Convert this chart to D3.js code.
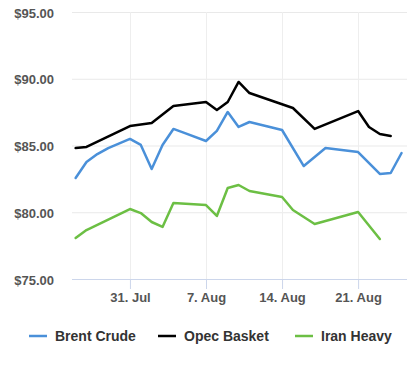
<!doctype html>
<html lang="en">
<head>
  <meta charset="utf-8">
  <script src="https://d3js.org/d3.v7.min.js"></script>
  <style>
    body { margin: 0; background: #fff; }
    text { font-family: "Liberation Sans", Arial, sans-serif; }
  </style>
</head>
<body>
  <div id="chart"></div>
  <script>
    // series data (2017 dates)
    var brentDates  = ["07-26","07-27","07-28","07-29","07-31","08-01","08-02","08-03","08-04","08-05","08-07","08-08","08-09","08-10","08-11","08-14","08-16","08-18","08-21","08-23","08-24","08-25"];
    var brentValues = [82.57, 83.76, 84.36, 84.81, 85.49, 85.04, 83.24, 85.04, 86.24, 85.94, 85.34, 86.09, 87.51, 86.39, 86.76, 86.16, 83.46, 84.81, 84.51, 82.87, 82.94, 84.44];

    var opecDates  = ["07-26","07-27","07-31","08-02","08-04","08-07","08-08","08-09","08-10","08-11","08-15","08-17","08-21","08-22","08-23","08-24"];
    var opecValues = [84.81, 84.89, 86.46, 86.69, 87.96, 88.26, 87.66, 88.26, 89.76, 88.93, 87.81, 86.24, 87.58, 86.39, 85.86, 85.71];

    var iranDates  = ["07-26","07-27","07-31","08-01","08-02","08-03","08-04","08-07","08-08","08-09","08-10","08-11","08-14","08-15","08-17","08-21","08-23"];
    var iranValues = [78.07, 78.67, 80.24, 79.94, 79.27, 78.90, 80.69, 80.54, 79.72, 81.82, 82.04, 81.59, 81.14, 80.17, 79.12, 80.02, 78.00];

    var yTicks = [75, 80, 85, 90, 95];
    var xTicks = ["07-31", "08-07", "08-14", "08-21"];

    var seriesNames  = ["Brent Crude", "Opec Basket", "Iran Heavy"];
    var seriesColors = ["#4a90d9", "#000000", "#6cbf44"];

    var parse = function(s) { return d3.timeParse("%Y-%m-%d")("2017-" + s); };

    var series = [
      {name: seriesNames[0], color: seriesColors[0], points: brentDates.map(function(d, i) { return {x: parse(d), y: brentValues[i]}; })},
      {name: seriesNames[1], color: seriesColors[1], points: opecDates.map(function(d, i) { return {x: parse(d), y: opecValues[i]}; })},
      {name: seriesNames[2], color: seriesColors[2], points: iranDates.map(function(d, i) { return {x: parse(d), y: iranValues[i]}; })}
    ];

    var width = 418, height = 369;
    var plot = {left: 72, right: 407, top: 12, bottom: 279};

    var svg = d3.select("#chart").append("svg")
        .attr("width", width)
        .attr("height", height);

    var x = d3.scaleTime()
        .domain([new Date(2017, 6, 25, 16), new Date(2017, 7, 25, 12)])
        .range([plot.left, plot.right]);

    var y = d3.scaleLinear()
        .domain([75, 95])
        .range([plot.bottom, plot.top]);

    // horizontal grid
    svg.append("g").selectAll("line")
        .data(yTicks.filter(function(v) { return v > 75; }))
        .enter().append("line")
        .attr("x1", plot.left).attr("x2", plot.right)
        .attr("y1", function(d) { return y(d) + 0.5; })
        .attr("y2", function(d) { return y(d) + 0.5; })
        .attr("stroke", "#e9e9e9").attr("stroke-width", 1);

    // vertical grid
    svg.append("g").selectAll("line")
        .data(xTicks)
        .enter().append("line")
        .attr("x1", function(d) { return Math.round(x(parse(d))) + 0.5; })
        .attr("x2", function(d) { return Math.round(x(parse(d))) + 0.5; })
        .attr("y1", plot.top).attr("y2", plot.bottom)
        .attr("stroke", "#eeeeee").attr("stroke-width", 1);

    // y labels
    svg.append("g").selectAll("text")
        .data(yTicks)
        .enter().append("text")
        .attr("x", 54)
        .attr("y", function(d) { return y(d) + 5.5; })
        .attr("text-anchor", "end")
        .attr("font-size", "13px")
        .attr("font-weight", "bold")
        .attr("fill", "#555")
        .text(function(d) { return "$" + d3.format(".2f")(d); });

    // x axis
    var xAxis = d3.axisBottom(x)
        .tickValues(xTicks.map(parse))
        .tickSize(10)
        .tickPadding(4)
        .tickFormat(function(d) { return d3.timeFormat("%-d. %b")(d); });

    var gx = svg.append("g")
        .attr("transform", "translate(0," + plot.bottom + ")")
        .call(xAxis);
    gx.select(".domain").attr("stroke", "#ccd6eb").attr("d", "M" + plot.left + ",0.5H" + plot.right);
    gx.selectAll(".tick line").attr("stroke", "#ccd6eb");
    gx.selectAll(".tick text")
        .attr("font-size", "13px")
        .attr("font-weight", "bold")
        .attr("font-family", "Liberation Sans, Arial, sans-serif")
        .attr("fill", "#555");

    // lines
    var line = d3.line()
        .x(function(d) { return x(d.x); })
        .y(function(d) { return y(d.y); });

    svg.append("g").selectAll("path")
        .data(series)
        .enter().append("path")
        .attr("d", function(d) { return line(d.points); })
        .attr("fill", "none")
        .attr("stroke", function(d) { return d.color; })
        .attr("stroke-width", 2.5)
        .attr("stroke-linejoin", "round")
        .attr("stroke-linecap", "round");

    // legend
    var legendX = [29, 158, 295];
    var legend = svg.append("g").selectAll("g")
        .data(series)
        .enter().append("g")
        .attr("transform", function(d, i) { return "translate(" + legendX[i] + ",336)"; });
    legend.append("line")
        .attr("x1", 0).attr("x2", 18)
        .attr("y1", 0).attr("y2", 0)
        .attr("stroke", function(d) { return d.color; })
        .attr("stroke-width", 2.5);
    legend.append("text")
        .attr("x", 26).attr("y", 5)
        .attr("font-size", "14px")
        .attr("font-weight", "bold")
        .attr("fill", "#333")
        .text(function(d) { return d.name; });
  </script>
</body>
</html>
